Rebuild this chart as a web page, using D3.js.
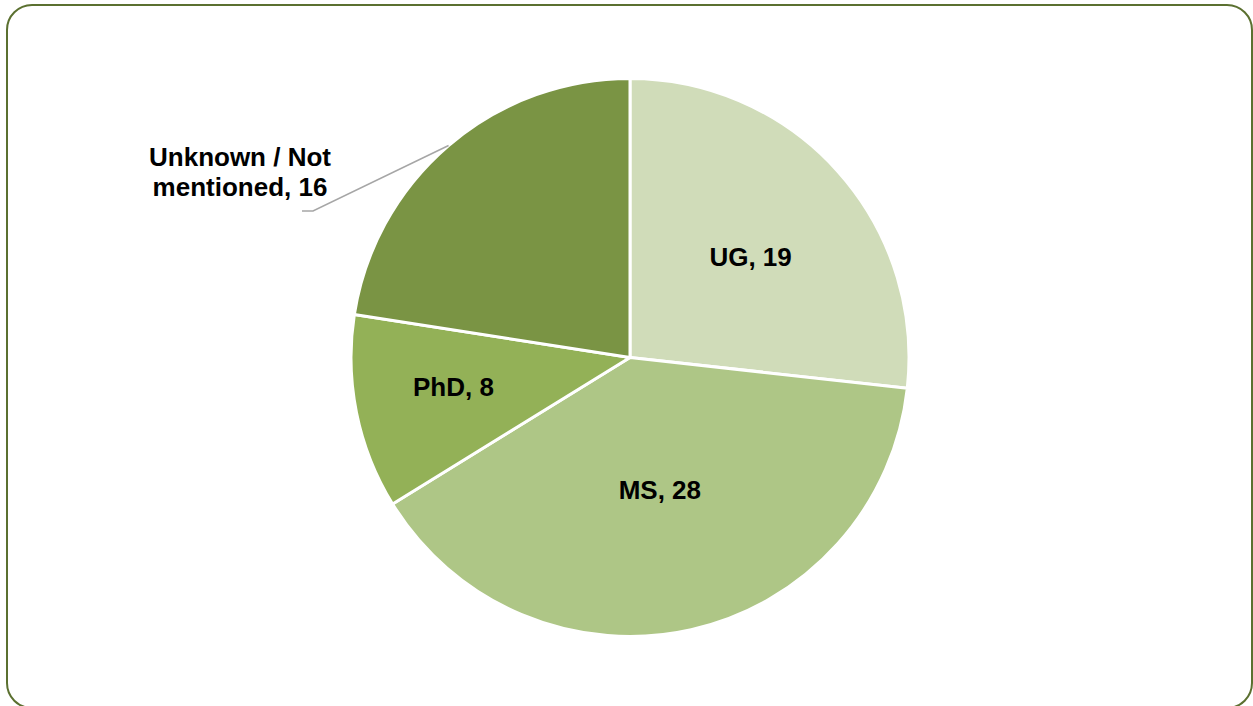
<!DOCTYPE html>
<html>
<head>
<meta charset="utf-8">
<script src="https://cdn.jsdelivr.net/npm/d3@7"></script>
<style>
  body { margin: 0; background: #fff; }
  svg { display: block; }
</style>
</head>
<body>
<script>
// data
var categories = ["UG", "MS", "PhD", "Unknown / Not mentioned"];
var counts = [19, 28, 8, 16];
var colors = ["#d0dcb9", "#aec686", "#93b157", "#7a9444"];

var width = 1253,
    height = 706;

var svg = d3.select("body")
    .append("svg")
    .attr("width", width)
    .attr("height", height);

// chart border
svg.append("rect")
    .attr("x", 7)
    .attr("y", 5)
    .attr("width", 1245)
    .attr("height", 703)
    .attr("rx", 25)
    .attr("ry", 25)
    .attr("fill", "#fff")
    .attr("stroke", "#5b7030")
    .attr("stroke-width", 2);

var cx = 630, cy = 357.5, radius = 279;

var g = svg.append("g")
    .attr("transform", "translate(" + cx + "," + cy + ")");

var pie = d3.pie().sort(null).value(function(d) { return d; });
var arcs = pie(counts);

var arc = d3.arc().innerRadius(0).outerRadius(radius);

g.selectAll("path.slice")
    .data(arcs)
  .enter().append("path")
    .attr("class", "slice")
    .attr("d", arc)
    .attr("fill", function(d, i) { return colors[i]; })
    .attr("stroke", "#fff")
    .attr("stroke-width", 3)
    .attr("stroke-linejoin", "round");

// inside labels: distance from centre and small angle nudge (degrees), like excel's best fit
var labelDist = [157, 136, 179];
var labelNudge = [2, 0, 2];

function mid(d) { return (d.startAngle + d.endAngle) / 2; }
function labelAngle(d, i) { return mid(d) + labelNudge[i] * Math.PI / 180; }

g.selectAll("text.inlabel")
    .data(arcs.slice(0, 3))
  .enter().append("text")
    .attr("class", "inlabel")
    .attr("x", function(d, i) { return Math.sin(labelAngle(d, i)) * labelDist[i]; })
    .attr("y", function(d, i) { return -Math.cos(labelAngle(d, i)) * labelDist[i]; })
    .attr("dy", "0.35em")
    .attr("text-anchor", "middle")
    .attr("font-family", "'Liberation Sans', Arial, sans-serif")
    .attr("font-weight", "bold")
    .attr("font-size", 26)
    .attr("fill", "#000")
    .text(function(d, i) { return categories[i] + ", " + counts[i]; });

// outside label for the last slice, with leader line
var last = arcs[3];
var a = mid(last);
var p0 = [Math.sin(a) * radius, -Math.cos(a) * radius];
var p1 = [313 - cx, 211 - cy];
var p2 = [302 - cx, 211 - cy];

g.append("polyline")
    .attr("points", [p0, p1, p2].map(function(p) { return p.join(","); }).join(" "))
    .attr("fill", "none")
    .attr("stroke", "#a6a6a6")
    .attr("stroke-width", 1.5);

var outLabel = g.append("text")
    .attr("text-anchor", "middle")
    .attr("font-family", "'Liberation Sans', Arial, sans-serif")
    .attr("font-weight", "bold")
    .attr("font-size", 26)
    .attr("fill", "#000");

outLabel.append("tspan")
    .attr("x", 240 - cx)
    .attr("y", 166 - cy)
    .text("Unknown / Not");
outLabel.append("tspan")
    .attr("x", 240 - cx)
    .attr("y", 196 - cy)
    .text("mentioned, " + counts[3]);
</script>
</body>
</html>
